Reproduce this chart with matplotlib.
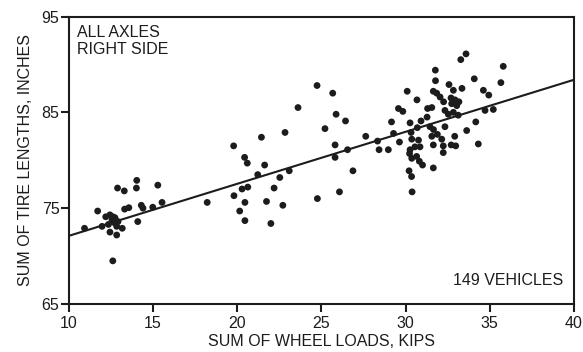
import matplotlib
matplotlib.use("Agg")
import matplotlib.pyplot as plt

plt.rcParams['font.family'] = ['Liberation Sans', 'DejaVu Sans']

# Sum of wheel loads (kips) and sum of tire lengths (inches)
wheel_loads = [
    10.95, 11.73, 11.99, 12.21, 12.37, 12.46, 12.46, 12.58, 12.70, 12.76,
    12.86, 12.86, 12.63, 12.91, 13.31, 13.19, 13.33, 13.58, 14.05, 14.03,
    14.32, 14.42, 14.11, 15.00, 15.30, 15.55, 12.64, 12.94,
    18.23, 19.80, 19.82, 20.16, 20.30, 20.64, 20.45, 20.61, 20.47, 20.47,
    21.23, 21.45, 21.64, 21.75, 22.01, 22.20, 22.54, 22.72, 22.85, 23.10,
    23.62, 24.75, 24.77, 25.22, 25.68, 25.82, 25.82, 25.88, 26.08, 26.44,
    26.56, 26.88, 27.64, 28.34, 28.43, 28.98, 29.17, 29.29, 29.58, 29.84,
    29.64, 30.10, 30.27, 30.33, 30.37, 30.27, 30.56, 30.24, 30.37, 30.66,
    30.82, 31.01, 30.21, 30.36, 30.39, 30.68, 30.77, 30.86, 30.70, 30.92,
    31.28, 31.31, 31.56, 31.45, 31.66, 31.56, 31.89, 31.65, 31.65, 31.77,
    31.78, 31.65, 31.85, 32.05, 32.26, 32.34, 32.15, 32.24, 32.24, 32.34,
    32.58, 32.84, 32.70, 32.94, 33.17, 32.74, 33.04, 32.54, 32.84, 33.13,
    32.71, 32.98, 32.92, 33.28, 33.59, 33.35, 33.63, 34.08, 34.17, 34.32,
    34.62, 34.94, 34.72, 35.21, 35.66, 35.80,
]
tire_lengths = [
    72.9, 74.7, 73.1, 74.1, 73.3, 74.3, 72.5, 73.8, 73.5, 74.0,
    73.1, 72.2, 69.5, 77.1, 76.8, 72.9, 74.9, 75.05, 77.9, 77.1,
    75.3, 75.0, 73.6, 75.1, 77.4, 75.6, 74.1, 73.6,
    75.6, 81.5, 76.3, 74.7, 77.0, 77.2, 80.3, 79.7, 75.6, 73.7,
    78.5, 82.4, 79.5, 75.7, 73.4, 77.1, 78.2, 75.3, 82.9, 78.9,
    85.5, 87.8, 76.0, 83.3, 87.0, 81.6, 80.3, 84.8, 76.7, 84.1,
    81.1, 78.9, 82.5, 82.0, 81.1, 81.1, 84.0, 82.8, 85.4, 85.1,
    81.9, 87.2, 83.9, 82.9, 82.2, 81.1, 81.4, 80.7, 80.2, 80.4,
    79.9, 79.5, 78.9, 78.3, 76.7, 86.3, 82.1, 81.4, 83.4, 84.1,
    84.5, 85.4, 85.5, 83.5, 83.2, 82.5, 82.7, 81.6, 79.2, 89.4,
    88.3, 87.2, 87.0, 86.6, 86.1, 85.2, 82.2, 81.5, 80.8, 83.5,
    87.9, 87.3, 86.5, 86.3, 86.1, 85.9, 85.7, 84.8, 85.0, 84.7,
    81.6, 81.5, 82.5, 90.5, 91.1, 87.5, 83.1, 88.5, 84.0, 81.7,
    87.3, 86.8, 85.2, 85.3, 88.1, 89.8,
]

# Fitted line end points
fit_x = [10, 40]
fit_y = [72.1, 88.4]

x_ticks = [10, 15, 20, 25, 30, 35, 40]
y_ticks = [65, 75, 85, 95]

ink = '#1c1c1c'

fig = plt.figure(figsize=(5.83, 3.52), dpi=100)
ax = fig.add_axes([0.1175, 0.1364, 0.8671, 0.8167])

ax.scatter(wheel_loads, tire_lengths, s=24, color=ink, edgecolors='none', zorder=3)
ax.plot(fit_x, fit_y, color=ink, linewidth=1.5, zorder=2)

ax.set_xlim(10, 40)
ax.set_ylim(65, 95)
ax.set_xticks(x_ticks)
ax.set_yticks(y_ticks)

for sp in ax.spines.values():
    sp.set_linewidth(1.5)
    sp.set_color(ink)

ax.tick_params(axis='both', direction='out', length=5.5, width=1.5, color=ink,
               labelsize=11.5, labelcolor=ink)
ax.tick_params(axis='x', pad=3)
ax.tick_params(axis='y', pad=1)

ax.set_xlabel('SUM OF WHEEL LOADS, KIPS', fontsize=11.5, color=ink, labelpad=2)
ax.set_ylabel('SUM OF TIRE LENGTHS, INCHES', fontsize=11.5, color=ink, labelpad=6)

ax.text(0.0174, 0.972, 'ALL AXLES\nRIGHT SIDE', transform=ax.transAxes,
        ha='left', va='top', fontsize=11.5, color=ink, linespacing=1.2)
ax.text(0.979, 0.066, '149 VEHICLES', transform=ax.transAxes,
        ha='right', va='baseline', fontsize=11.5, color=ink)

fig.savefig('out.png', dpi=100, facecolor='white')
